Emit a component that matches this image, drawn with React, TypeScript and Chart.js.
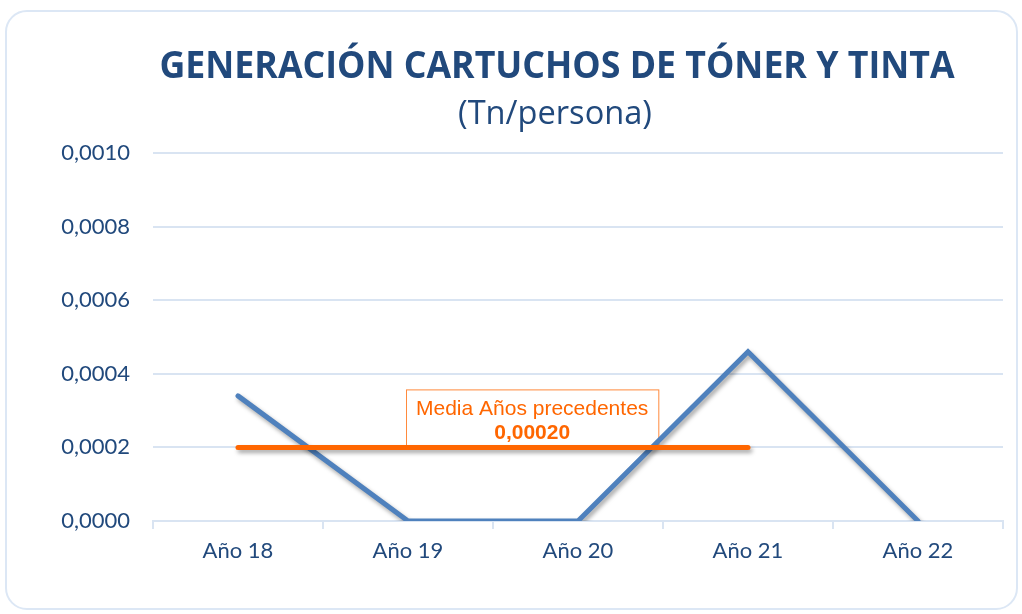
import React, { useEffect, useRef } from "react";
import { Chart, registerables } from "chart.js";

Chart.register(...registerables);

const categories = ["Año 18", "Año 19", "Año 20", "Año 21", "Año 22"];
const generation = [0.00034, 0, 0, 0.00046, 0];
const precedingMean = [0.0002, 0.0002, 0.0002, 0.0002, null];
const titleText = "GENERACIÓN CARTUCHOS DE TÓNER Y TINTA";
const subtitleText = "(Tn/persona)";
const meanLabelLines = ["Media Años precedentes", "0,00020"];
const yMin = 0;
const yMax = 0.001;
const yStep = 0.0002;

const NAVY = "#21497C";
const BLUE = "#4F81BD";
const ORANGE = "#FF6600";
const GRID = "#D9E4F2";
const TICK_FONT = "Lato";

const fmt = (v: number) => v.toFixed(4).replace(".", ",");

const titlePlugin = {
  id: "titlePlugin",
  afterDraw(chart: any) {
    const ctx = chart.ctx;
    ctx.save();
    ctx.fillStyle = NAVY;
    ctx.textAlign = "center";
    ctx.textBaseline = "alphabetic";
    // condensed look: draw at cap height ~27px and squeeze horizontally to the target width
    ctx.font = "bold 37px 'Open Sans'";
    const w = ctx.measureText(titleText).width;
    const sx = 795 / w;
    ctx.save();
    ctx.translate(557, 78);
    ctx.scale(Math.min(sx, 1), 1);
    ctx.fillText(titleText, 0, 0);
    ctx.restore();
    ctx.font = "30px 'Open Sans'";
    const w2 = ctx.measureText(subtitleText).width;
    const ss = (30 * 194) / w2;
    ctx.font = `${ss}px 'Open Sans'`;
    ctx.fillText(subtitleText, 555, 124);
    ctx.restore();
  },
};

const meanLabelPlugin = {
  id: "meanLabel",
  beforeDatasetsDraw(chart: any) {
    const ctx = chart.ctx;
    const xs = chart.scales.x;
    const ys = chart.scales.y;
    const left = xs.getPixelForValue(1) - 2;
    const bottom = ys.getPixelForValue(precedingMean[0] as number);
    ctx.save();
    ctx.font = "21px 'Liberation Sans'";
    const tw = ctx.measureText(meanLabelLines[0]).width;
    const bw = tw + 20;
    const bh = 58;
    ctx.fillStyle = "#FFFFFF";
    ctx.fillRect(left, bottom - bh, bw, bh);
    ctx.strokeStyle = "#FF8A3D";
    ctx.lineWidth = 1;
    ctx.strokeRect(left + 0.5, bottom - bh + 0.5, bw, bh);
    ctx.fillStyle = ORANGE;
    ctx.textAlign = "center";
    ctx.textBaseline = "middle";
    const cx = left + bw / 2;
    ctx.fillText(meanLabelLines[0], cx, bottom - bh + 20);
    ctx.font = "bold 21px 'Liberation Sans'";
    ctx.fillText(meanLabelLines[1], cx, bottom - bh + 44);
    ctx.restore();
  },
};

const shadowPlugin = {
  id: "shadow",
  beforeDatasetDraw(chart: any) {
    const ctx = chart.ctx;
    ctx.save();
    ctx.shadowColor = "rgba(0,0,0,0.35)";
    ctx.shadowBlur = 4;
    ctx.shadowOffsetX = 2;
    ctx.shadowOffsetY = 3;
  },
  afterDatasetDraw(chart: any) {
    chart.ctx.restore();
  },
};

export default function App() {
  const ref = useRef<HTMLCanvasElement>(null);
  useEffect(() => {
    document.body.style.margin = "0";
    const chart = new Chart(ref.current as HTMLCanvasElement, {
      type: "line",
      data: {
        labels: categories,
        datasets: [
          {
            label: "Generación",
            data: generation,
            borderColor: BLUE,
            borderWidth: 5,
            pointRadius: 0,
            borderCapStyle: "round",
            borderJoinStyle: "miter",
            tension: 0,
            order: 2,
          },
          {
            label: "Media Años precedentes",
            data: precedingMean,
            borderColor: ORANGE,
            borderWidth: 5,
            pointRadius: 0,
            borderCapStyle: "round",
            order: 1,
          },
        ],
      },
      options: {
        responsive: false,
        animation: false,
        layout: { padding: { top: 153, right: 19, left: 0, bottom: 0 } },
        plugins: {
          legend: { display: false },
          tooltip: { enabled: false },
          title: { display: false },
        },
        scales: {
          x: {
            offset: true,
            grid: {
              display: true,
              drawOnChartArea: false,
              drawTicks: true,
              tickLength: 8,
              offset: true,
              color: GRID,
              lineWidth: 2,
            },
            border: { display: true, color: GRID, width: 2 },
            ticks: {
              color: NAVY,
              font: { family: TICK_FONT, size: 22 },
              padding: 9,
            },
            afterFit(scale: any) {
              scale.height = 614 - 521;
            },
          },
          y: {
            min: yMin,
            max: yMax,
            grid: { color: GRID, lineWidth: 2, drawTicks: false },
            border: { display: false },
            ticks: {
              stepSize: yStep,
              color: NAVY,
              font: { family: TICK_FONT, size: 22 },
              padding: 23,
              callback: (v: any) => fmt(Number(v)),
            },
            afterFit(scale: any) {
              scale.width = 153;
            },
          },
        },
      },
      plugins: [shadowPlugin, meanLabelPlugin, titlePlugin],
    } as any);
    return () => chart.destroy();
  }, []);

  return (
    <div style={{ position: "fixed", left: 0, top: 0, width: 1022, height: 614, background: "#fff" }}>
      <div
        style={{
          position: "absolute",
          left: 5,
          top: 10,
          width: 1013,
          height: 600,
          border: "2px solid #DCE7F5",
          borderRadius: 22,
          boxSizing: "border-box",
        }}
      />
      <canvas ref={ref} width={1022} height={614} style={{ position: "absolute", left: 0, top: 0 }} />
    </div>
  );
}
